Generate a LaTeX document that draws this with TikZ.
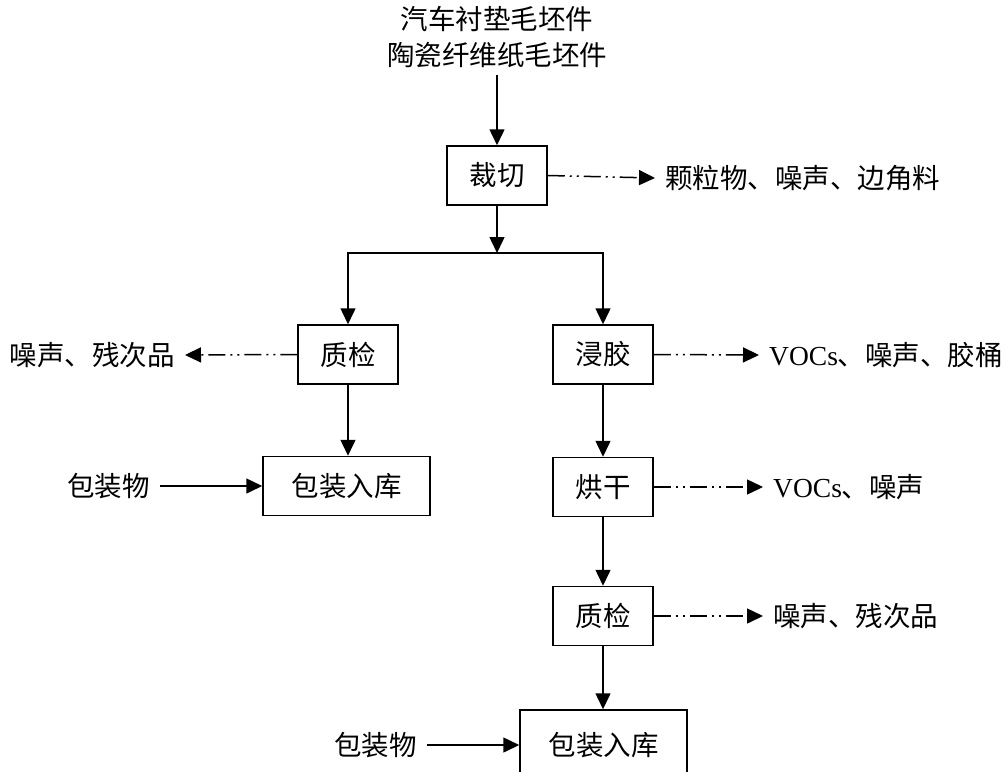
\documentclass[tikz,border=0pt]{standalone}
\usepackage{fontspec}
\setmainfont{Liberation Serif}
\newfontfamily\cjk{Noto Sans CJK SC}
\usetikzlibrary{arrows.meta}
\begin{document}
\begin{tikzpicture}[x=1pt,y=-1pt,
  every node/.style={font=\cjk\fontsize{27.5}{36}\selectfont, inner sep=0pt},
  box/.style={draw, line width=1.5pt, minimum width=100pt, minimum height=59pt},
  widebox/.style={box, minimum width=167pt},
  lbl/.style={inner xsep=10pt},
  flow/.style={line width=1.5pt, -{Triangle[length=16pt,width=15pt]}},
  plain/.style={line width=1.5pt},
  waste/.style={line width=1.5pt, dash pattern=on 17pt off 5pt on 2pt off 5pt on 2pt off 5pt, -{Triangle[length=16pt,width=15pt]}}]
\useasboundingbox (0,0) rectangle (1008,771);
\clip (0,0) rectangle (1008,771);
% top input
\node[align=center] (src) at (497,37) {汽车衬垫毛坯件\\陶瓷纤维纸毛坯件};
\node[box] (cut) at (497,175.5) {裁切};
\node[lbl, anchor=west] (w1) at (655,178) {颗粒物、噪声、边角料};
\coordinate (srcb) at (497,75);
\draw[flow] (srcb) -- (cut.north);
\draw[waste] (cut.east) -- (w1.west);
% junction
\coordinate (jm) at (497,253);
\coordinate (jl) at (348,253);
\coordinate (jr) at (603,253);
\draw[flow] (cut.south) -- (jm);
\draw[plain] ([xshift=-0.75pt]jl) -- ([xshift=0.75pt]jr);
% left branch
\node[box] (q1) at (348,354.5) {质检};
\node[lbl, anchor=east] (w2) at (185,355) {噪声、残次品};
\draw[flow] (jl) -- (q1.north);
\draw[waste] (q1.west) -- (w2.east);
\node[widebox] (p1) at (346.5,486) {包装入库};
\node[lbl, anchor=east] (m1) at (160,486) {包装物};
\draw[flow] (q1.south) -- (q1.south |- p1.north);
\draw[flow] (m1.east) -- (p1.west);
% right branch
\node[box] (dip) at (603,354.5) {浸胶};
\node[lbl, anchor=west] (w3) at (759,355) {{\rmfamily VOCs}、噪声、胶桶};
\draw[flow] (jr) -- (dip.north);
\draw[waste] (dip.east) -- (w3.west);
\node[box] (dry) at (603,487) {烘干};
\node[lbl, anchor=west] (w4) at (763,487) {{\rmfamily VOCs}、噪声};
\draw[flow] (dip.south) -- (dry.north);
\draw[waste] (dry.east) -- (w4.west);
\node[box] (q2) at (603,616) {质检};
\node[lbl, anchor=west] (w5) at (763,616) {噪声、残次品};
\draw[flow] (dry.south) -- (q2.north);
\draw[waste] (q2.east) -- (w5.west);
\node[widebox, minimum height=64pt] (p2) at (603.5,742) {};
\node (p2t) at (603.5,745) {包装入库};
\node[lbl, anchor=east] (m2) at (427,745) {包装物};
\draw[flow] (q2.south) -- (q2.south |- p2.north);
\draw[flow] (m2.east) -- (p2.west |- m2.east);
\end{tikzpicture}
\end{document}
